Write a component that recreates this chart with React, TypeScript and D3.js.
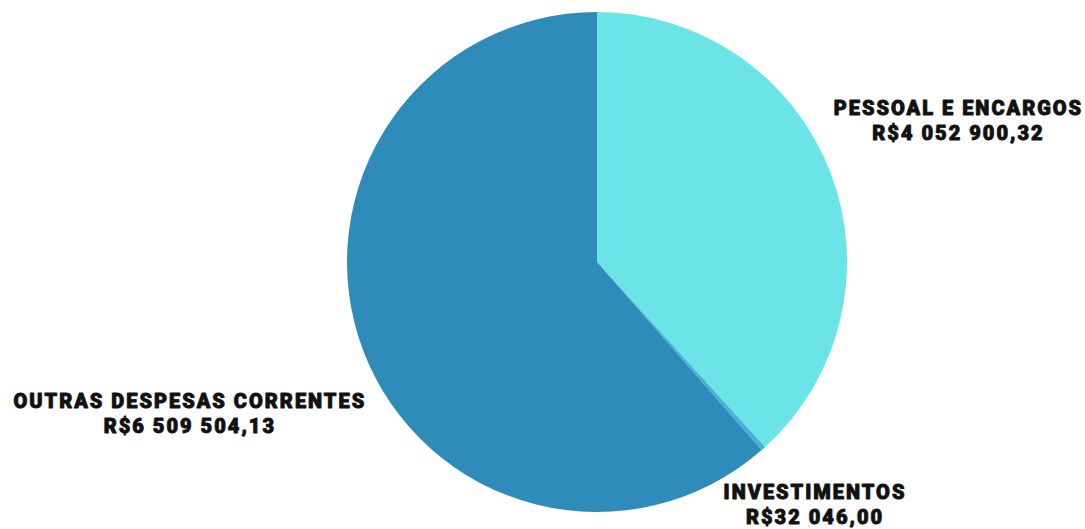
import React from "react";
import * as d3 from "d3";

const categories = ["PESSOAL E ENCARGOS", "INVESTIMENTOS", "OUTRAS DESPESAS CORRENTES"];
const values = [4052900.32, 32046.0, 6509504.13];
const valueLabels = ["R$4 052 900,32", "R$32 046,00", "R$6 509 504,13"];
const colors = ["#6be4e8", "#45b3d6", "#2e8bba"];
// label distance from centre (in units of radius), layout only
const labelRadiusFactor = [1.55, 1.31, 1.74];

const W = 1085;
const H = 529;

export default function App() {
  const cx = 597;
  const cy = 262;
  const r = 250;
  const pie = d3.pie<number>().sort(null).value((d) => d)(values);
  const arc = d3.arc<d3.PieArcDatum<number>>().innerRadius(0).outerRadius(r);
  return (
    <svg width={W} height={H} style={{ position: "absolute", left: 0, top: 0 }}>
      <rect width={W} height={H} fill="#ffffff" />
      <g transform={`translate(${cx},${cy})`}>
        {pie.map((p, i) => (
          <path key={i} d={arc(p) || ""} fill={colors[i]} />
        ))}
        {pie.map((p, i) => {
          const a = (p.startAngle + p.endAngle) / 2;
          const lr = r * labelRadiusFactor[i];
          const x = Math.sin(a) * lr;
          const y = -Math.cos(a) * lr;
          return (
            <text
              key={"t" + i}
              x={x}
              y={y}
              textAnchor="middle"
              fontFamily="Roboto, 'DejaVu Sans', sans-serif"
              fontWeight={900}
              fontSize={20}
              letterSpacing={2}
              fill="#111111"
              stroke="#111111"
              strokeWidth={0.9}
              strokeLinejoin="round"
            >
              <tspan x={x} dy={-7}>{categories[i]}</tspan>
              <tspan x={x} dy={25}>{valueLabels[i]}</tspan>
            </text>
          );
        })}
      </g>
    </svg>
  );
}
